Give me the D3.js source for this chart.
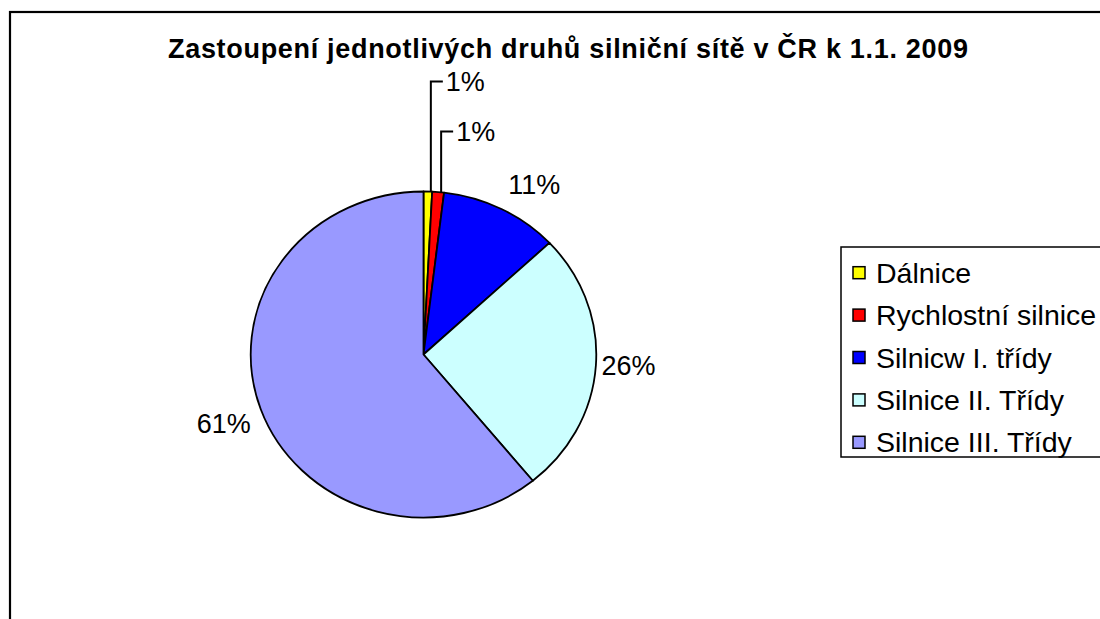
<!DOCTYPE html>
<html>
<head>
<meta charset="utf-8">
<script src="https://cdn.jsdelivr.net/npm/d3@7"></script>
<style>
  html, body { margin: 0; padding: 0; background: #fff; }
  svg { display: block; }
  text { font-family: "Liberation Sans", Arial, sans-serif; }
</style>
</head>
<body>
<svg id="chart" width="1100" height="619"></svg>
<script>
// ---- data ----
const categories = ["Dálnice", "Rychlostní silnice", "Silnicw I. třídy", "Silnice II. Třídy", "Silnice III. Třídy"];
const shares = [0.8, 1.1, 11.1, 26.1, 60.9];           // % of road network
const percentLabels = ["1%", "1%", "11%", "26%", "61%"];
const colors = ["#FFFF00", "#FF0000", "#0000FF", "#CCFFFF", "#9999FF"];
const title = "Zastoupení jednotlivých druhů silniční sítě v ČR k 1.1. 2009";

// ---- layout ----
const cx = 423.5, cy = 354.5, R = 163, xStretch = 1.06;
const svg = d3.select("#chart");

// chart frame
svg.append("rect").attr("x", 10).attr("y", 12).attr("width", 1110).attr("height", 640)
  .attr("fill", "none").attr("stroke", "#000").attr("stroke-width", 2.2);

// title
svg.append("text").attr("x", 568).attr("y", 58).attr("text-anchor", "middle")
  .attr("font-weight", "bold").attr("font-size", 27).attr("textLength", 800)
  .attr("lengthAdjust", "spacing").attr("fill", "#000").text(title);

// pie
const data = categories.map((c, i) => ({ name: c, value: shares[i], label: percentLabels[i], color: colors[i] }));
const pie = d3.pie().value(d => d.value).sort(null).startAngle(0).endAngle(2 * Math.PI);
const arcs = pie(data);
const arc = d3.arc().innerRadius(0).outerRadius(R);

const gPie = svg.append("g").attr("transform", `translate(${cx},${cy}) scale(${xStretch},1)`);
gPie.selectAll("path").data(arcs).join("path")
  .attr("d", arc)
  .attr("fill", d => d.data.color)
  .attr("stroke", "#000").attr("stroke-width", 1.8)
  .attr("stroke-linejoin", "round")
  .attr("vector-effect", "non-scaling-stroke");

// labels
const fs = 27;
const gLab = svg.append("g");
const toXY = (a, r) => [cx + Math.sin(a) * r * xStretch, cy - Math.cos(a) * r];
const pieTop = cy - R;
let stack = 0;
arcs.forEach((d) => {
  const mid = (d.startAngle + d.endAngle) / 2;
  const span = d.endAngle - d.startAngle;
  if (span < 0.15) {
    // small slice: leader line up to a stacked label
    const [x0, y0] = toXY(mid, R);
    const ly = pieTop - 110 + stack * 50;
    stack++;
    gLab.append("path")
      .attr("d", d3.line()([[x0 + 3, y0], [x0 + 3, ly], [x0 + 15, ly]]))
      .attr("fill", "none").attr("stroke", "#000").attr("stroke-width", 2);
    gLab.append("text").attr("x", x0 + 18).attr("y", ly + 9.5)
      .attr("font-size", fs).attr("fill", "#000").text(d.data.label);
  } else {
    const [px, py] = toXY(mid, R + 10);
    const c = Math.cos(mid), s = Math.sin(mid);
    let base, dx = s >= 0 ? 2 : 0;
    if (c > 0.3) base = py - 6;
    else if (c < -0.3) base = py + 20;
    else { base = py + 9.5; dx = -5; }
    gLab.append("text")
      .attr("x", px + dx)
      .attr("text-anchor", s >= 0 ? "start" : "end")
      .attr("y", base)
      .attr("font-size", fs).attr("fill", "#000").text(d.data.label);
  }
});

// legend
const lfs = 28.5;
const lg = svg.append("g");
lg.append("rect").attr("x", 841).attr("y", 247).attr("width", 280).attr("height", 210)
  .attr("fill", "#fff").attr("stroke", "#000").attr("stroke-width", 1.5);
const rowY = d3.scalePoint().domain(categories).range([272.7, 442.3]);
categories.forEach((c, i) => {
  const y = rowY(c);
  lg.append("rect").attr("x", 853).attr("y", y - 6).attr("width", 12).attr("height", 12)
    .attr("fill", colors[i]).attr("stroke", "#000").attr("stroke-width", 1.5);
  lg.append("text").attr("x", 876).attr("y", y + 10).attr("font-size", lfs)
    .attr("fill", "#000").text(c);
});
</script>
</body>
</html>
